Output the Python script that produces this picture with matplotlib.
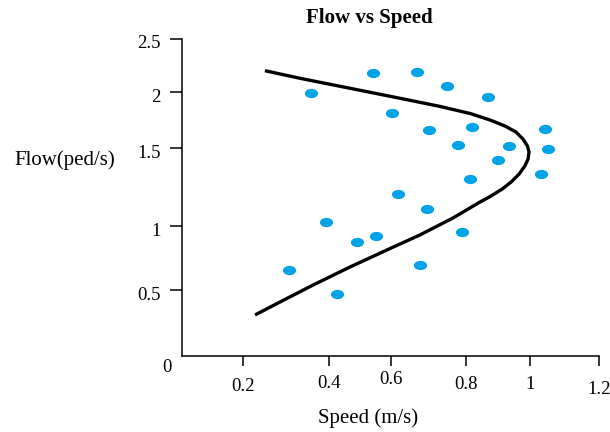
import numpy as np
import matplotlib
matplotlib.use("Agg")
import matplotlib.pyplot as plt
import matplotlib.transforms as mtransforms
from matplotlib.path import Path

plt.rcParams['font.family'] = ['Liberation Serif', 'DejaVu Serif']

# observed points
speed = [0.358, 0.542, 0.669, 0.603, 0.749, 0.869, 0.701, 0.819, 1.043, 0.779,
         0.934, 1.052, 0.900, 1.032, 0.813, 0.619, 0.696, 0.393, 0.552, 0.490,
         0.789, 0.307, 0.677, 0.426]
flow = [1.991, 2.179, 2.189, 1.813, 2.057, 1.955, 1.661, 1.688, 1.670, 1.527,
        1.518, 1.494, 1.423, 1.333, 1.301, 1.205, 1.109, 1.026, 0.922, 0.875,
        0.953, 0.656, 0.695, 0.470]

# fitted curve
curve_speed = [0.251, 0.333, 0.468, 0.624, 0.731, 0.813, 0.875, 0.922, 0.956,
               0.978, 0.992, 0.997, 0.994, 0.984, 0.966, 0.941, 0.913, 0.878,
               0.844, 0.765, 0.677, 0.587, 0.468, 0.363, 0.286, 0.228]
curve_flow = [2.201, 2.129, 2.035, 1.944, 1.871, 1.808, 1.750, 1.696, 1.643,
              1.580, 1.518, 1.474, 1.429, 1.385, 1.333, 1.282, 1.237, 1.192,
              1.154, 1.051, 0.930, 0.813, 0.680, 0.539, 0.409, 0.311]

x_ticks = [0, 0.2, 0.4, 0.6, 0.8, 1.0, 1.2]
x_labels = ['0.2', '0.4', '0.6', '0.8', '1', '1.2']
y_ticks = [0, 0.5, 1, 1.5, 2, 2.5]
y_labels = ['0.5', '1', '1.5', '2', '2.5']

# the original chart's ticks are not evenly spaced, so map them piecewise
x_gap = [0, 61, 147, 209, 284, 348, 417]
y_gap = [0, 66, 130, 208, 264, 317]
# small vertical wobble of the x tick labels in the original (pixels, down = +)
x_label_shift = [2, -1, -5, 0, 0, 5]


def piecewise(vals, pos):
    return (lambda v: np.interp(v, vals, pos),
            lambda p: np.interp(p, pos, vals))


fig = plt.figure(figsize=(6.1, 4.32), dpi=100)
ax = fig.add_axes([182 / 610, 76 / 432, 417 / 610, 317 / 432])

ax.set_xscale('function', functions=piecewise(x_ticks, x_gap))
ax.set_yscale('function', functions=piecewise(y_ticks, y_gap))
ax.set_xlim(0, 1.2)
ax.set_ylim(0, 2.5)

ellipse = Path(Path.unit_circle().vertices * [1.0, 0.7], Path.unit_circle().codes)
ax.plot(speed, flow, linestyle='none', marker=ellipse, markersize=9.5,
        color='#00A3E8', markeredgewidth=0)
ax.plot(curve_speed, curve_flow, color='black', linewidth=2.4,
        solid_capstyle='butt', solid_joinstyle='round')

for side in ['top', 'right']:
    ax.spines[side].set_visible(False)
for side in ['left', 'bottom']:
    ax.spines[side].set_linewidth(1.1)

ax.set_xticks(x_ticks[1:])
ax.set_xticklabels(x_labels)
ax.set_yticks(y_ticks[1:])
ax.set_yticklabels(y_labels)
ax.tick_params(axis='x', length=7.5, width=1.1, pad=7, labelsize=13.5)
ax.tick_params(axis='y', length=8.5, width=1.1, pad=7, labelsize=13.5)
ax.minorticks_off()

for lab, dy in zip(ax.get_xticklabels(), x_label_shift):
    lab.set_transform(lab.get_transform() + mtransforms.ScaledTranslation(
        0, -dy / 100, fig.dpi_scale_trans))
for lab in ax.get_yticklabels():
    lab.set_transform(lab.get_transform() + mtransforms.ScaledTranslation(
        0, -3 / 100, fig.dpi_scale_trans))

fig.text(167 / 610, 1 - 368 / 432, '0', fontsize=13.5, ha='center', va='center')
fig.text(369 / 610, 1 - 18 / 432, 'Flow vs Speed', fontsize=15,
         fontweight='bold', ha='center', va='center')
fig.text(65 / 610, 1 - 160 / 432, 'Flow(ped/s)', fontsize=15,
         ha='center', va='center')
fig.text(368 / 610, 1 - 418 / 432, 'Speed (m/s)', fontsize=15,
         ha='center', va='center')

fig.savefig('out.png', dpi=100)
